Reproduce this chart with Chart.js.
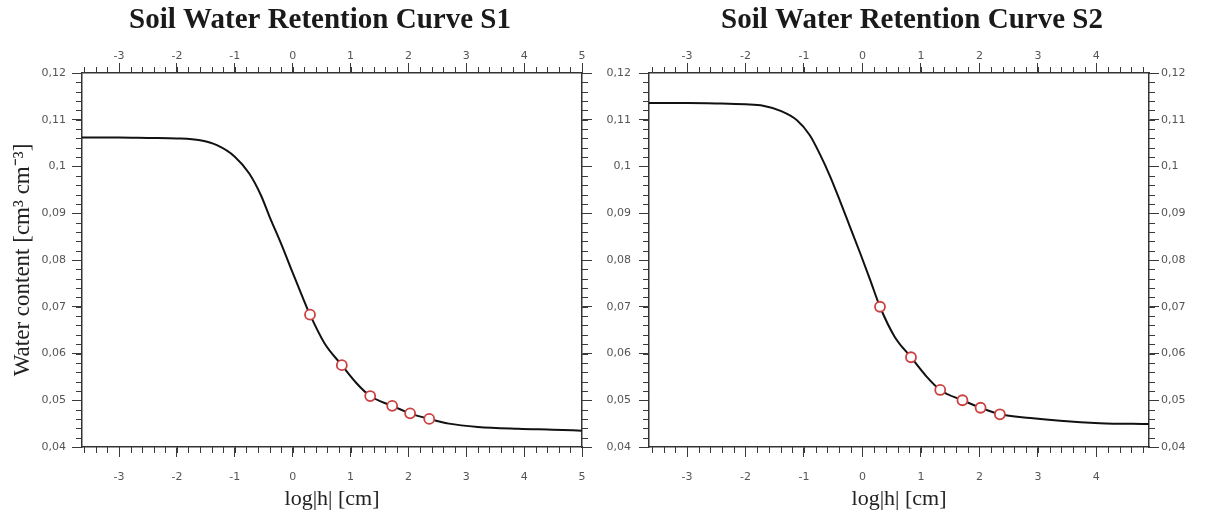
<!DOCTYPE html>
<html>
<head>
<meta charset="utf-8">
<script src="https://cdn.jsdelivr.net/npm/chart.js@4.4.1/dist/chart.umd.min.js"></script>
<style>
  html, body { margin: 0; padding: 0; background: #fff; }
  body { width: 1205px; height: 512px; position: relative; overflow: hidden; }
  canvas { position: absolute; top: 0; }
</style>
</head>
<body>
<canvas id="s1" width="640" height="512" style="left:0"></canvas>
<canvas id="s2" width="624" height="512" style="left:600px"></canvas>
<script>
// S1 fitted curve (log|h| vs water content)
const curveS1X = [-3.64, -3.0, -2.5, -2.0, -1.6, -1.3, -1.0, -0.75, -0.55, -0.4, -0.2, 0.0, 0.15, 0.3, 0.55, 0.85, 1.1, 1.34, 1.72, 2.03, 2.36, 2.7, 3.2, 3.9, 4.5, 5.0];
const curveS1Y = [0.1062, 0.1062, 0.1061, 0.1060, 0.1056, 0.1045, 0.1021, 0.0985, 0.0939, 0.0893, 0.0835, 0.0773, 0.0727, 0.0683, 0.0622, 0.0575, 0.0537, 0.0509, 0.0488, 0.0472, 0.0460, 0.0450, 0.0443, 0.0439, 0.0437, 0.0435];
// S1 measured points
const measS1X = [0.3, 0.85, 1.34, 1.72, 2.03, 2.36];
const measS1Y = [0.0683, 0.0575, 0.0509, 0.0488, 0.0472, 0.0460];

// S2 fitted curve
const curveS2X = [-3.65, -3.0, -2.5, -2.0, -1.7, -1.4, -1.12, -0.9, -0.73, -0.55, -0.38, -0.21, -0.04, 0.13, 0.3, 0.55, 0.83, 1.08, 1.33, 1.71, 2.02, 2.35, 2.87, 3.38, 4.06, 4.9];
const curveS2Y = [0.1136, 0.1136, 0.1135, 0.1133, 0.1130, 0.1119, 0.1099, 0.1067, 0.1027, 0.0978, 0.0925, 0.0870, 0.0815, 0.0758, 0.0700, 0.0636, 0.0592, 0.0553, 0.0522, 0.0500, 0.0484, 0.0470, 0.0462, 0.0456, 0.0451, 0.0449];
// S2 measured points
const measS2X = [0.3, 0.83, 1.33, 1.71, 2.02, 2.35];
const measS2Y = [0.0700, 0.0592, 0.0522, 0.0500, 0.0484, 0.0470];

// axis ticks
const xTicksS1 = [-3, -2, -1, 0, 1, 2, 3, 4, 5];
const xTicksS2 = [-3, -2, -1, 0, 1, 2, 3, 4];
const yTicks = [0.04, 0.05, 0.06, 0.07, 0.08, 0.09, 0.1, 0.11, 0.12];
const yTickLabels = ['0,04', '0,05', '0,06', '0,07', '0,08', '0,09', '0,1', '0,11', '0,12'];
const xMinorStep = 0.2;
const yMinorStep = 0.002;

const TICK_FONT = { family: 'DejaVu Sans', size: 11 };
const TICK_COLOR = '#555';
const LINE_COLOR = '#3a3a3a';

// minor tick marks drawn from each scale's own pixel mapping
const minorTicks = {
  id: 'minorTicks',
  afterDraw(chart) {
    const ctx = chart.ctx;
    ctx.save();
    ctx.strokeStyle = LINE_COLOR;
    ctx.lineWidth = 1;
    ctx.beginPath();
    Object.values(chart.scales).forEach(s => {
      const step = s.isHorizontal() ? xMinorStep : yMinorStep;
      const len = 6;
      for (let k = Math.ceil(s.min / step - 1e-6); k * step <= s.max + 1e-9; k++) {
        const p = Math.round(s.getPixelForValue(k * step)) + 0.5;
        if (s.position === 'bottom') { ctx.moveTo(p, s.top); ctx.lineTo(p, s.top + len); }
        else if (s.position === 'top') { ctx.moveTo(p, s.bottom); ctx.lineTo(p, s.bottom - len); }
        else if (s.position === 'left') { ctx.moveTo(s.right, p); ctx.lineTo(s.right - len, p); }
        else { ctx.moveTo(s.left, p); ctx.lineTo(s.left + len, p); }
      }
    });
    ctx.stroke();
    ctx.restore();
  }
};

function axis(opts) {
  const { position, min, max, ticks, labels, showLabels, size, pad, title } = opts;
  const horiz = position === 'top' || position === 'bottom';
  return {
    type: 'linear',
    position,
    min, max,
    afterBuildTicks: s => { s.ticks = ticks.map(v => ({ value: v })); },
    afterFit: s => { if (horiz) s.height = size; else s.width = size; },
    ticks: {
      display: showLabels,
      autoSkip: false,
      maxRotation: 0,
      padding: pad,
      color: TICK_COLOR,
      font: TICK_FONT,
      callback: (v, i) => labels[i]
    },
    grid: { drawOnChartArea: false, drawTicks: true, tickLength: 10, color: LINE_COLOR, lineWidth: 1 },
    border: { display: true, color: '#333', width: 1.5 },
    title: title ? {
      display: true,
      text: title,
      color: '#222',
      font: { family: 'Liberation Serif', size: horiz ? 22 : 23 },
      padding: horiz ? { top: 0, bottom: 0 } : { top: 9, bottom: 0 }
    } : { display: false }
  };
}

function makeChart(id, cfg) {
  new Chart(document.getElementById(id), {
    type: 'scatter',
    data: {
      datasets: [
        {
          label: 'measured',
          data: cfg.mx.map((x, i) => ({ x, y: cfg.my[i] })),
          showLine: false,
          pointRadius: 5,
          pointBorderWidth: 1.8,
          borderColor: '#cc4040',
          pointBorderColor: '#cc4040',
          pointBackgroundColor: '#fff',
          order: 0
        },
        {
          label: 'fitted',
          data: cfg.cx.map((x, i) => ({ x, y: cfg.cy[i] })),
          showLine: true,
          pointRadius: 0,
          borderColor: '#111',
          borderWidth: 2,
          cubicInterpolationMode: 'monotone',
          order: 1
        }
      ]
    },
    options: {
      responsive: false,
      animation: false,
      devicePixelRatio: 1,
      layout: { padding: 0 },
      plugins: {
        legend: { display: false },
        tooltip: { enabled: false },
        title: {
          display: true,
          text: cfg.title,
          color: '#1a1a1a',
          font: { family: 'Liberation Serif', size: 29, weight: 'bold', lineHeight: '34px' },
          padding: { top: 4, bottom: 0 }
        }
      },
      scales: {
        x: axis({ position: 'bottom', min: cfg.xMin, max: cfg.xMax, ticks: cfg.xTicks, labels: cfg.xTicks.map(String),
                  showLabels: true, size: 65, pad: 14, title: 'log|h| [cm]' }),
        x2: axis({ position: 'top', min: cfg.xMin, max: cfg.xMax, ticks: cfg.xTicks, labels: cfg.xTicks.map(String),
                   showLabels: true, size: 35, pad: 0 }),
        y: axis({ position: 'left', min: 0.04, max: 0.12, ticks: yTicks, labels: yTickLabels,
                  showLabels: true, size: cfg.leftW, pad: cfg.leftPad, title: cfg.yTitle }),
        y2: axis({ position: 'right', min: 0.04, max: 0.12, ticks: yTicks, labels: yTickLabels,
                   showLabels: cfg.rightLabels, size: cfg.rightW, pad: 2 })
      }
    },
    plugins: [minorTicks]
  });
}

makeChart('s1', {
  title: 'Soil Water Retention Curve S1',
  cx: curveS1X, cy: curveS1Y, mx: measS1X, my: measS1Y,
  xMin: -3.64, xMax: 5, xTicks: xTicksS1,
  leftW: 82, leftPad: 6, rightW: 58, rightLabels: false,
  yTitle: 'Water content [cm³ cm⁻³]'
});

makeChart('s2', {
  title: 'Soil Water Retention Curve S2',
  cx: curveS2X, cy: curveS2Y, mx: measS2X, my: measS2Y,
  xMin: -3.65, xMax: 4.9, xTicks: xTicksS2,
  leftW: 49, leftPad: 8, rightW: 75, rightLabels: true,
  yTitle: null
});
</script>
</body>
</html>
